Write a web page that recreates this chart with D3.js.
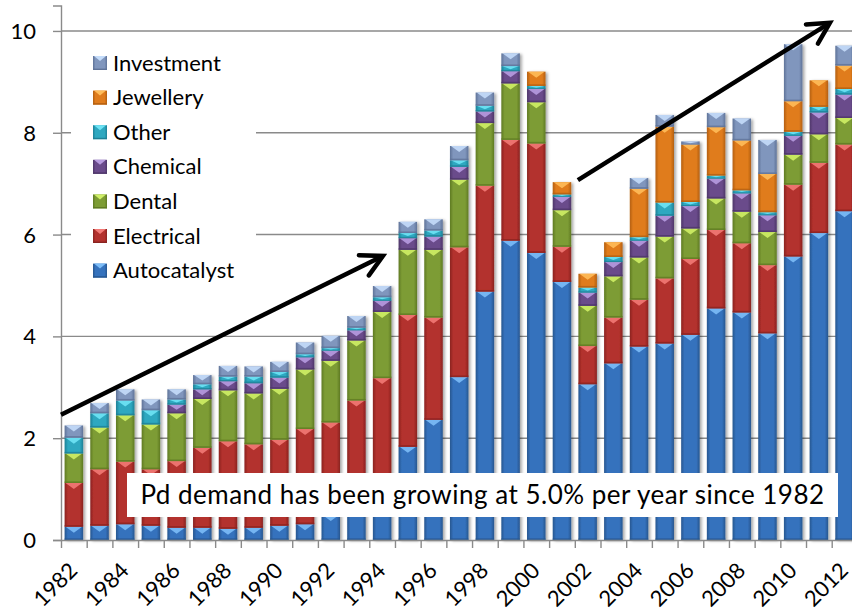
<!DOCTYPE html>
<html><head><meta charset="utf-8">
<script src="https://cdn.jsdelivr.net/npm/d3@7"></script>
<style>
body{margin:0;background:#fff;}
svg{display:block;font-family:Lato,"Open Sans",sans-serif;}
</style>
</head><body>
<svg id="c" width="852" height="613"></svg>
<script>
// ---------- data (million oz) ----------
const years = [1982,1983,1984,1985,1986,1987,1988,1989,1990,1991,1992,1993,1994,1995,1996,1997,1998,1999,2000,2001,2002,2003,2004,2005,2006,2007,2008,2009,2010,2011,2012];
const autocatalyst = [0.26,0.28,0.31,0.28,0.24,0.24,0.22,0.24,0.28,0.31,0.49,0.65,1.00,1.83,2.36,3.20,4.88,5.88,5.64,5.07,3.06,3.47,3.80,3.86,4.03,4.55,4.47,4.06,5.57,6.03,6.46];
const electrical   = [0.86,1.11,1.23,1.11,1.31,1.57,1.72,1.64,1.69,1.87,1.82,2.09,2.18,2.59,2.01,2.55,2.08,1.98,2.15,0.69,0.75,0.90,0.92,1.28,1.49,1.54,1.36,1.34,1.41,1.38,1.31];
const dental       = [0.58,0.82,0.91,0.88,0.94,0.96,1.00,1.00,1.00,1.17,1.21,1.18,1.30,1.28,1.33,1.33,1.23,1.11,0.81,0.72,0.79,0.81,0.83,0.82,0.60,0.62,0.62,0.65,0.59,0.56,0.52];
const chemical     = [0,0,0,0,0.17,0.19,0.18,0.20,0.22,0.24,0.20,0.20,0.22,0.23,0.26,0.25,0.23,0.24,0.26,0.26,0.26,0.28,0.33,0.41,0.44,0.39,0.36,0.33,0.37,0.43,0.46];
const other        = [0.31,0.28,0.29,0.28,0.10,0.10,0.09,0.13,0.11,0.06,0.05,0.05,0.07,0.10,0.12,0.13,0.11,0.10,0.06,0.05,0.10,0.10,0.07,0.26,0.08,0.06,0.06,0.06,0.08,0.11,0.11];
const jewellery    = [0,0,0,0,0,0,0,0,0,0,0,0,0,0,0,0,0,0,0.28,0.24,0.27,0.29,0.95,1.49,1.13,0.95,0.98,0.75,0.60,0.52,0.46];
const investment   = [0.24,0.20,0.22,0.21,0.20,0.18,0.21,0.20,0.20,0.23,0.24,0.23,0.22,0.22,0.22,0.28,0.26,0.25,0,0,0,0,0.21,0.23,0.06,0.28,0.43,0.67,1.12,0,0.39];

const seriesNames = ["Autocatalyst","Electrical","Dental","Chemical","Other","Jewellery","Investment"];
const yTicks = [0,2,4,6,8,10];
const xLabels = [1982,1984,1986,1988,1990,1992,1994,1996,1998,2000,2002,2004,2006,2008,2010,2012];
const annotation = "Pd demand has been growing at 5.0% per year since 1982";
// trend arrows in data units: [category index, value]
const arrow1 = [[-0.5, 2.46], [12.03, 5.58]];
const arrow2 = [[19.62, 7.07], [29.43, 10.16]];

// ---------- styles ----------
const palette = {
  Autocatalyst: {dark:"#27568f", base:"#3572bd", light:"#7cbcf7"},
  Electrical:   {dark:"#8a2320", base:"#b3312d", light:"#f27a76"},
  Dental:       {dark:"#5f7a24", base:"#7d9c34", light:"#cfef66"},
  Chemical:     {dark:"#4e3669", base:"#6a4b8b", light:"#b79be0"},
  Other:        {dark:"#1e8096", base:"#2ea8c0", light:"#6ee3f5"},
  Jewellery:    {dark:"#b35f10", base:"#e07c1c", light:"#ffbd5a"},
  Investment:   {dark:"#5f7398", base:"#8096bd", light:"#c4dcfa"}
};
const axisColor = "#8a8a8a";

const svg = d3.select("#c");
const defs = svg.append("defs");
seriesNames.forEach(k => {
  const g = defs.append("linearGradient").attr("id","g_"+k).attr("x1","0").attr("x2","1").attr("y1","0").attr("y2","0");
  g.append("stop").attr("offset","0").attr("stop-color",palette[k].dark);
  g.append("stop").attr("offset","0.18").attr("stop-color",palette[k].base);
  g.append("stop").attr("offset","0.82").attr("stop-color",palette[k].base);
  g.append("stop").attr("offset","1").attr("stop-color",palette[k].dark);
});
const f = defs.append("filter").attr("id","sh").attr("x","-30%").attr("y","-5%").attr("width","160%").attr("height","110%");
f.append("feDropShadow").attr("dx",2).attr("dy",1).attr("stdDeviation",1.6).attr("flood-color","#000").attr("flood-opacity",0.35);

// ---------- scales ----------
const x = d3.scaleBand().domain(years).range([61, 857.4]).paddingInner(0.28).paddingOuter(0.14);
const xi = d3.scaleLinear().domain([-0.5, years.length-0.5]).range([61, 857.4]);
const y = d3.scaleLinear().domain([0, 10.5]).range([540, 5.5]);

// ---------- gridlines ----------
svg.append("g").selectAll("line").data(yTicks.filter(d=>d>0)).join("line")
  .attr("x1",61).attr("x2",860).attr("y1",d=>y(d)).attr("y2",d=>y(d))
  .attr("stroke",axisColor).attr("stroke-width",1.4);

// ---------- bars ----------
const rows = years.map((yr,i)=>({year:yr, Autocatalyst:autocatalyst[i], Electrical:electrical[i], Dental:dental[i],
  Chemical:chemical[i], Other:other[i], Jewellery:jewellery[i], Investment:investment[i]}));
const stacked = d3.stack().keys(seriesNames)(rows);
const bw = x.bandwidth();

function drawSeg(g, k, x0, y0, w, h){
  if (h <= 0.2) return;
  g.append("rect").attr("x",x0).attr("y",y0).attr("width",w).attr("height",h).attr("fill","url(#g_"+k+")");
  const th = Math.min(6, h*0.6);
  g.append("path").attr("d",`M${x0+1},${y0}L${x0+w-1},${y0}L${x0+w/2},${y0+th}Z`).attr("fill",palette[k].light).attr("opacity",0.9);
  const bh = Math.min(1.6, h*0.25);
  g.append("rect").attr("x",x0).attr("y",y0+h-bh).attr("width",w).attr("height",bh).attr("fill",palette[k].dark).attr("opacity",0.8);
}

const barsG = svg.append("g");
years.forEach((yr,i)=>{
  const g = barsG.append("g").attr("filter","url(#sh)");
  stacked.forEach(layer=>{
    const d = layer[i];
    const y0 = y(d[1]), h = y(d[0]) - y(d[1]);
    drawSeg(g, layer.key, x(yr), y0, bw, h);
  });
});

// ---------- axes ----------
const yAxis = svg.append("g").attr("transform","translate(61,0)")
  .call(d3.axisLeft(y).tickValues(yTicks).tickSize(8).tickFormat(""));
yAxis.selectAll("path,line").attr("stroke",axisColor).attr("stroke-width",1.4);
svg.append("g").selectAll("text").data(yTicks).join("text")
  .attr("x",36).attr("y",d=>y(d)+8).attr("text-anchor","end")
  .attr("font-size",22).attr("fill","#000").text(d=>d);

const bounds = years.map((d,i)=>i-0.5).concat([years.length-0.5]);
const xAxis = svg.append("g").attr("transform","translate(0,540)")
  .call(d3.axisBottom(xi).tickValues(bounds).tickSize(8).tickSizeOuter(0).tickFormat(""));
xAxis.selectAll("path,line").attr("stroke",axisColor).attr("stroke-width",1.4);
svg.append("g").selectAll("text").data(xLabels).join("text")
  .attr("transform",d=>`translate(${x(d)+bw/2+5},572) rotate(-45)`)
  .attr("text-anchor","end").attr("font-size",22).attr("fill","#000").text(d=>d);

// ---------- legend ----------
const leg = svg.append("g");
leg.append("rect").attr("x",71).attr("y",44).attr("width",185).attr("height",248).attr("fill","#fff");
const legOrder = seriesNames.slice().reverse();
legOrder.forEach((k,i)=>{
  const cy = 63 + i*34.6;
  const g = leg.append("g");
  g.append("rect").attr("x",93).attr("y",cy-7).attr("width",14).attr("height",14).attr("fill","url(#g_"+k+")");
  g.append("path").attr("d",`M${94},${cy-7}L${106},${cy-7}L${100},${cy-2}Z`).attr("fill",palette[k].light);
  g.append("rect").attr("x",93).attr("y",cy+5.6).attr("width",14).attr("height",1.4).attr("fill",palette[k].dark);
  g.append("text").attr("x",113).attr("y",cy+7.5).attr("font-size",22).attr("fill","#000").text(k);
});

// ---------- annotation box ----------
svg.append("rect").attr("x",127).attr("y",473).attr("width",711).attr("height",44).attr("fill","#fff");
svg.append("text").attr("x",482.5).attr("y",504).attr("text-anchor","middle").attr("font-size",26)
  .attr("letter-spacing",0.5).attr("fill","#000").text(annotation);

// ---------- trend arrows ----------
function arrow(a){
  const p0 = [xi(a[0][0]), y(a[0][1])], p1 = [xi(a[1][0]), y(a[1][1])];
  const ang = Math.atan2(p1[1]-p0[1], p1[0]-p0[0]);
  const L = 24, s = 28*Math.PI/180;
  const a1 = [p1[0]-L*Math.cos(ang-s), p1[1]-L*Math.sin(ang-s)];
  const a2 = [p1[0]-L*Math.cos(ang+s), p1[1]-L*Math.sin(ang+s)];
  svg.append("path").attr("d",`M${p0}L${p1}`).attr("stroke","#000").attr("stroke-width",4.5).attr("fill","none");
  svg.append("path").attr("d",`M${a1}L${p1}L${a2}`).attr("stroke","#000").attr("stroke-width",4.5)
    .attr("fill","none").attr("stroke-linejoin","miter").attr("stroke-linecap","round");
}
arrow(arrow1); arrow(arrow2);
</script>
</body></html>
